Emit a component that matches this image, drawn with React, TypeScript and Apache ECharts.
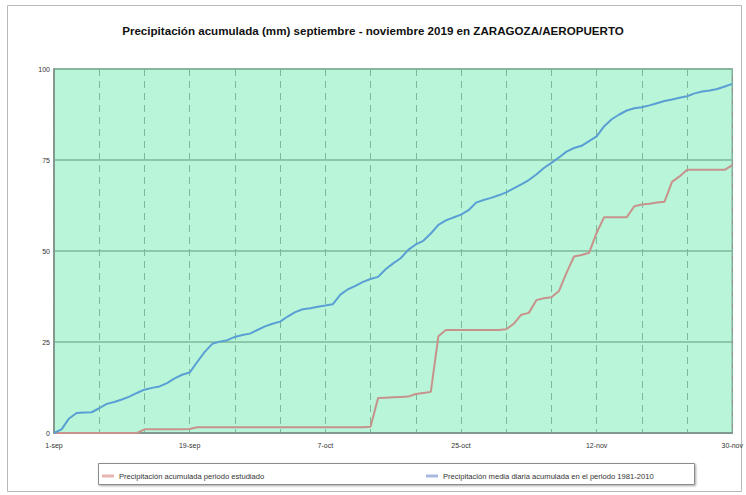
import React, { useEffect, useRef } from "react";
import * as echarts from "echarts";

const TITLE = "Precipitación acumulada (mm) septiembre - noviembre 2019 en ZARAGOZA/AEROPUERTO";
const MONTHS: [string, number][] = [["sep", 30], ["oct", 31], ["nov", 30]];
const categories: string[] = [];
MONTHS.forEach(([m, n]) => { for (let d = 1; d <= n; d++) categories.push(`${d}-${m}`); });

const SERIES_STUDY = "Precipitación acumulada periodo estudiado";
const SERIES_NORMAL = "Precipitación media diaria acumulada en el periodo 1981-2010";

// Accumulated precipitation, study period (mm), 1-sep .. 30-nov
const studyValues = [
  0, 0, 0, 0, 0, 0, 0, 0, 0, 0,
  0, 0, 1.0, 1.0, 1.0, 1.0, 1.0, 1.0, 1.1, 1.6,
  1.6, 1.6, 1.6, 1.6, 1.6, 1.6, 1.6, 1.6, 1.6, 1.6,
  1.6, 1.6, 1.6, 1.6, 1.6, 1.6, 1.6, 1.6, 1.6, 1.6,
  1.6, 1.6, 1.7, 9.6, 9.7, 9.8, 9.9, 10.0, 10.7, 11.0,
  11.3, 26.6, 28.3, 28.3, 28.3, 28.3, 28.3, 28.3, 28.3, 28.3,
  28.5, 30.0, 32.5, 33.0, 36.5, 37.0, 37.3, 39.0, 44.0, 48.5,
  48.9, 49.5, 55.0, 59.3, 59.3, 59.3, 59.3, 62.3, 62.8, 63.0,
  63.3, 63.5, 69.0, 70.5, 72.3, 72.3, 72.3, 72.3, 72.3, 72.3,
  73.6,
];

// Mean daily accumulated precipitation 1981-2010 (mm)
const normalValues = [
  0, 1.0, 4.0, 5.5, 5.6, 5.7, 6.8, 8.0, 8.5, 9.2,
  10.0, 11.0, 11.9, 12.4, 12.8, 13.7, 15.0, 16.0, 16.6, 19.5,
  22.3, 24.5, 25.1, 25.5, 26.4, 26.9, 27.3, 28.3, 29.3, 30.0,
  30.6, 32.0, 33.2, 34.0, 34.3, 34.7, 35.0, 35.4, 38.0, 39.5,
  40.4, 41.5, 42.3, 42.9, 45.0, 46.6, 48.0, 50.3, 51.8, 52.8,
  54.8, 57.2, 58.4, 59.2, 60.0, 61.2, 63.3, 64.0, 64.6, 65.3,
  66.1, 67.2, 68.3, 69.5, 71.0, 72.8, 74.2, 75.7, 77.3, 78.3,
  78.9, 80.2, 81.5, 84.3, 86.2, 87.5, 88.6, 89.2, 89.5, 90.0,
  90.6, 91.2, 91.6, 92.1, 92.5, 93.3, 93.8, 94.1, 94.5, 95.2,
  95.9,
];

const Y_MIN = 0;
const Y_MAX = 100;
const Y_STEP = 25;

export default function App() {
  const ref = useRef<HTMLDivElement>(null);
  useEffect(() => {
    document.body.style.margin = "0";
    const chart = echarts.init(ref.current!, null, { renderer: "svg" });
    const font = "'Liberation Sans', Arial, sans-serif";
    chart.setOption({
      animation: false,
      backgroundColor: "#ffffff",
      textStyle: { fontFamily: font },
      title: {
        text: TITLE,
        left: "center",
        top: 19,
        textStyle: { fontSize: 11.6, fontWeight: "bold", color: "#111", fontFamily: font },
      },
      graphic: [
        {
          type: "rect",
          shape: { x: 7.5, y: 5.5, width: 734, height: 486 },
          style: { fill: "none", stroke: "#b8b8b8", lineWidth: 1 },
          silent: true,
          z: -10,
        },
        {
          type: "rect",
          shape: { x: 98.5, y: 463.5, width: 596, height: 21 },
          style: {
            fill: "#ffffff",
            stroke: "#8c8c8c",
            lineWidth: 1,
            shadowBlur: 2,
            shadowOffsetX: 1,
            shadowOffsetY: 1,
            shadowColor: "rgba(0,0,0,0.35)",
          },
          silent: true,
          z: -5,
        },
      ],
      legend: [
        {
          data: [SERIES_STUDY],
          left: 97,
          top: 467,
          icon: "rect",
          itemWidth: 12,
          itemHeight: 3,
          itemGap: 4,
          textStyle: { fontSize: 7.6, color: "#333", fontFamily: font },
        },
        {
          data: [SERIES_NORMAL],
          left: 421,
          top: 467,
          icon: "rect",
          itemWidth: 12,
          itemHeight: 3,
          itemGap: 4,
          textStyle: { fontSize: 7.6, color: "#333", fontFamily: font },
        },
      ],
      grid: {
        left: 54,
        right: 9,
        top: 69,
        bottom: 62,
        show: true,
        backgroundColor: "#b9f6d9",
        borderColor: "#8a9a92",
        borderWidth: 1.5,
      },
      xAxis: {
        type: "category",
        data: categories,
        boundaryGap: false,
        axisLine: { show: true, lineStyle: { color: "#7f8f88", width: 1.5 } },
        axisTick: { show: false },
        axisLabel: { interval: 17, fontSize: 7, color: "#333", margin: 9, fontFamily: font },
        splitLine: {
          show: true,
          interval: 5,
          lineStyle: { color: "#7fb79a", width: 1, type: [7, 5] },
        },
      },
      yAxis: {
        type: "value",
        min: Y_MIN,
        max: Y_MAX,
        interval: Y_STEP,
        axisLine: { show: true, lineStyle: { color: "#7f8f88", width: 1.5 } },
        axisTick: { show: false },
        axisLabel: { fontSize: 7, color: "#333", margin: 4, fontFamily: font },
        splitLine: { show: true, lineStyle: { color: "#7fb79a", width: 1.5 } },
      },
      series: [
        {
          name: SERIES_STUDY,
          type: "line",
          data: studyValues,
          showSymbol: false,
          color: "#c98f8a",
          lineStyle: { width: 2, color: "#c8928c" },
          itemStyle: { color: "#e7b5b2" },
          z: 3,
        },
        {
          name: SERIES_NORMAL,
          type: "line",
          data: normalValues,
          showSymbol: false,
          color: "#5a9fd4",
          lineStyle: { width: 2, color: "#5a9fd4" },
          itemStyle: { color: "#a9b9e0" },
          z: 4,
        },
      ],
    });
    return () => chart.dispose();
  }, []);
  return (
    <div
      ref={ref}
      style={{ position: "absolute", left: 0, top: 0, width: 746, height: 495 }}
    />
  );
}
